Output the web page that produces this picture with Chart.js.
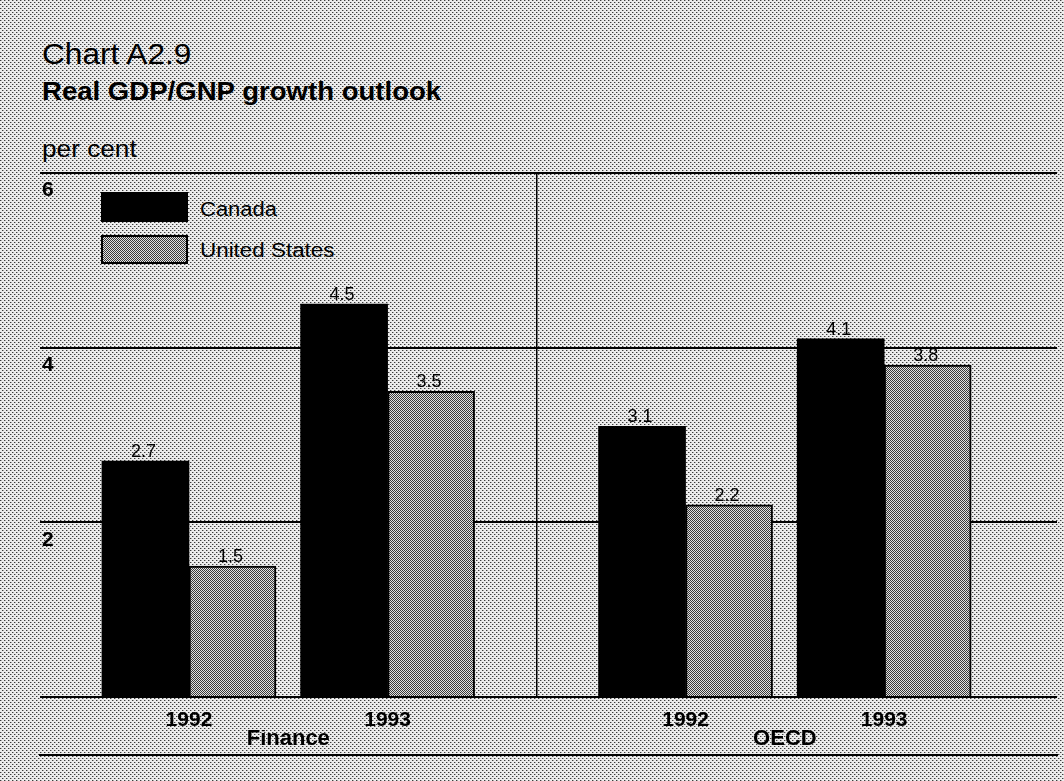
<!DOCTYPE html>
<html><head><meta charset="utf-8">
<script src="https://cdn.jsdelivr.net/npm/chart.js@4.4.1/dist/chart.umd.min.js"></script>
<style>
html,body{margin:0;padding:0;width:1064px;height:781px;overflow:hidden;}
body{position:relative;font-family:"Liberation Sans",Arial,sans-serif;color:#000;background:#c9c9c9;}
#c{position:absolute;left:0;top:0;}
.t{position:absolute;white-space:nowrap;line-height:1;transform-origin:0 0;}
.box{position:absolute;box-sizing:border-box;}
</style></head><body>
<div class="t" style="left:42px;top:39.5px;font-size:29px;transform:scaleX(1.09)">Chart A2.9</div>
<div class="t" style="left:42px;top:78px;font-size:26px;font-weight:bold;transform:scaleX(1.06)">Real GDP/GNP growth outlook</div>
<div class="t" style="left:42px;top:138px;font-size:23px;transform:scaleX(1.14)">per cent</div>
<div class="box" id="lb1" style="left:101px;top:192px;width:87px;height:30px;background:#000"></div>
<div class="box" id="lb2" style="left:101px;top:235px;width:87px;height:29px;border:2px solid #000"></div>
<div class="t" id="ll1" style="left:200px;top:199px;font-size:20px;transform:scaleX(1.1)"></div>
<div class="t" id="ll2" style="left:200px;top:240px;font-size:20px;transform:scaleX(1.12)"></div>
<canvas id="c" width="1064" height="781"></canvas>
<script>
// ---- data ----
const groups = ['Finance', 'OECD'];
const years = ['1992', '1993'];
const seriesNames = ['Canada', 'United States'];
const canada = [2.7, 4.5, 3.1, 4.1];        // Finance 1992, Finance 1993, OECD 1992, OECD 1993
const unitedStates = [1.5, 3.5, 2.2, 3.8];
const yTicks = [0, 2, 4, 6];

// ---- layout helpers (slot positions on a linear axis) ----
const slotOf = i => Math.floor(i / years.length) * 5 + (i % years.length) * 2 + 1;
const groupCenter = g => g * 5 + 2;
const divider = (slotOf(years.length - 1) + slotOf(years.length)) / 2;
const yearLabelAt = {};
canada.forEach((v, i) => { yearLabelAt[slotOf(i)] = years[i % years.length]; });

// ---- patterns ----
function tile(w, h, fn) {
  const c = document.createElement('canvas'); c.width = w; c.height = h;
  const g = c.getContext('2d'); fn(g); return c;
}
const bgTile = tile(4, 4, g => {
  g.fillStyle = '#ececec'; g.fillRect(0, 0, 4, 4);
  g.fillStyle = '#3c3c3c'; g.fillRect(0, 0, 1, 1); g.fillRect(2, 2, 1, 1);
  g.fillStyle = '#a8a8a8'; g.fillRect(1, 0, 1, 1); g.fillRect(3, 2, 1, 1);
});
const usTile = tile(2, 2, g => {
  g.fillStyle = '#e2e2e2'; g.fillRect(0, 0, 2, 2);
  g.fillStyle = '#3a3a3a'; g.fillRect(0, 0, 1, 1); g.fillRect(1, 1, 1, 1);
});
document.body.style.backgroundImage = 'url(' + bgTile.toDataURL() + ')';
document.getElementById('lb2').style.backgroundImage = 'url(' + usTile.toDataURL() + ')';
document.getElementById('ll1').textContent = seriesNames[0];
document.getElementById('ll2').textContent = seriesNames[1];

const ctx = document.getElementById('c').getContext('2d');
const usPattern = ctx.createPattern(usTile, 'repeat');
const FONT = "'Liberation Sans', Arial, sans-serif";
const xMin = -0.5, xMax = 9.74;

const valueLabels = {
  id: 'valueLabels',
  afterDatasetsDraw(chart) {
    const c = chart.ctx;
    c.save();
    c.font = '18px ' + FONT;
    c.fillStyle = '#000';
    c.textAlign = 'center';
    c.textBaseline = 'alphabetic';
    chart.data.datasets.forEach((ds, di) => {
      chart.getDatasetMeta(di).data.forEach((el, i) => {
        c.fillText(ds.data[i].y.toFixed(1), el.x - 2, el.y - 4);
      });
    });
    c.restore();
  }
};

const xBase = { type: 'linear', position: 'bottom', min: xMin, max: xMax, offset: false, bounds: 'data' };

new Chart(ctx, {
  type: 'bar',
  data: {
    datasets: [
      { label: seriesNames[0], data: canada.map((v, i) => ({ x: slotOf(i), y: v })),
        backgroundColor: '#000', borderWidth: 0 },
      { label: seriesNames[1], data: unitedStates.map((v, i) => ({ x: slotOf(i), y: v })),
        backgroundColor: usPattern, borderColor: '#000', borderWidth: 2, borderSkipped: 'start' }
    ]
  },
  options: {
    responsive: false,
    animation: false,
    devicePixelRatio: 1,
    barThickness: 87,
    layout: { padding: { top: 173, left: 40, right: 7, bottom: 24 } },
    plugins: { legend: { display: false }, tooltip: { enabled: false }, title: { display: false } },
    scales: {
      y: {
        min: 0, max: 6,
        afterFit: s => { s.width = 0; },
        afterBuildTicks: s => { s.ticks = yTicks.map(v => ({ value: v })); },
        ticks: { mirror: true, padding: 2, labelOffset: 17.5, color: '#000',
          font: { family: FONT, size: 21, weight: 'bold' },
          callback: v => (v === 0 ? '' : String(v)) },
        grid: { color: '#000', lineWidth: 2, drawTicks: false },
        border: { display: false }
      },
      x: Object.assign({}, xBase, {
        weight: 1,
        afterFit: s => { s.height = 33; },
        afterBuildTicks: s => {
          const vals = Object.keys(yearLabelAt).map(Number).concat([divider]).sort((a, b) => a - b);
          s.ticks = vals.map(v => ({ value: v }));
        },
        ticks: { padding: 13, color: '#000', maxRotation: 0, autoSkip: false,
          font: { family: FONT, size: 21, weight: 'bold', lineHeight: 1 },
          callback: v => yearLabelAt[v] || '' },
        grid: { offset: false, color: c => (c.tick && c.tick.value === divider ? '#000' : 'rgba(0,0,0,0)'),
          lineWidth: 1.5, drawTicks: false },
        border: { display: false }
      }),
      x2: Object.assign({}, xBase, {
        weight: 2,
        afterFit: s => { s.height = 25; },
        afterBuildTicks: s => { s.ticks = groups.map((g, i) => ({ value: groupCenter(i) })); },
        ticks: { padding: -2, color: '#000', maxRotation: 0, autoSkip: false,
          font: { family: FONT, size: 22, weight: 'bold', lineHeight: 1 },
          callback: (v, i) => groups[i] },
        grid: { offset: false, display: false, drawTicks: false },
        border: { display: false }
      }),
      x3: Object.assign({}, xBase, {
        weight: 3,
        afterFit: s => { s.height = 2; },
        ticks: { display: false },
        grid: { offset: false, color: 'rgba(0,0,0,0)', drawTicks: false },
        border: { display: true, color: '#000', width: 2 }
      })
    }
  },
  plugins: [valueLabels]
});
</script>
</body></html>
